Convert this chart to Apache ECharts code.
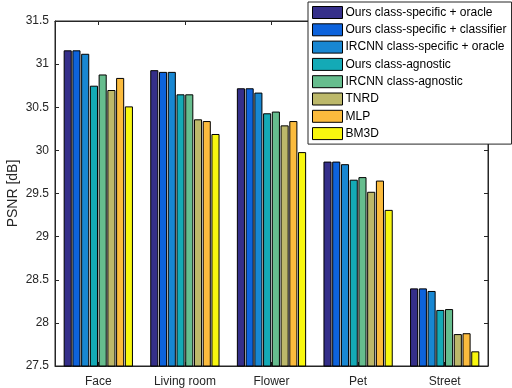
<!DOCTYPE html>
<html>
<head>
<meta charset="utf-8">
<script src="https://cdn.jsdelivr.net/npm/echarts@6/dist/echarts.min.js"></script>
<style>
  html, body { margin: 0; padding: 0; background: #fff; }
  #main { width: 512px; height: 388px; }
</style>
</head>
<body>
<div id="main"></div>
<script>
// categories along x
const categories = ['Face', 'Living room', 'Flower', 'Pet', 'Street'];

// one array per method, values per category (PSNR in dB)
const oursSpecOracle = [31.16, 30.93, 30.72, 29.87, 28.40];
const oursSpecClassifier = [31.16, 30.91, 30.72, 29.87, 28.40];
const ircnnSpecOracle = [31.12, 30.91, 30.67, 29.84, 28.37];
const oursAgnostic = [30.75, 30.65, 30.43, 29.66, 28.15];
const ircnnAgnostic = [30.88, 30.65, 30.45, 29.69, 28.16];
const tnrd = [30.70, 30.36, 30.29, 29.52, 27.87];
const mlp = [30.84, 30.34, 30.34, 29.65, 27.88];
const bm3d = [30.51, 30.19, 29.98, 29.31, 27.67];

const seriesNames = [
    'Ours class-specific + oracle',
    'Ours class-specific + classifier',
    'IRCNN class-specific + oracle',
    'Ours class-agnostic',
    'IRCNN class-agnostic',
    'TNRD',
    'MLP',
    'BM3D'
];
const seriesData = [oursSpecOracle, oursSpecClassifier, ircnnSpecOracle, oursAgnostic, ircnnAgnostic, tnrd, mlp, bm3d];
const colors = ['#352F8A', '#0D63DC', '#1887D2', '#14AAB6', '#66BD8E', '#BCB86A', '#FBBB3D', '#F8F70F'];

const yTicks = [27.5, 28, 28.5, 29, 29.5, 30, 30.5, 31, 31.5];

const font = 'Liberation Sans, Arial, sans-serif';
const myChart = echarts.init(document.getElementById('main'));

const series = seriesData.map((d, i) => {
    return {
        name: seriesNames[i],
        type: 'bar',
        data: d,
        barGap: '8%',
        barCategoryGap: '20%',
        itemStyle: {color: colors[i], borderColor: '#000', borderWidth: 1}
    };
});

const option = {
    animation: false,
    backgroundColor: '#fff',
    grid: {left: 55, right: 24, top: 21, bottom: 22, outerBoundsMode: 'none',
        show: true, borderColor: '#262626', borderWidth: 1, backgroundColor: 'transparent'},
    legend: {
        orient: 'vertical',
        left: 308,
        top: 2,
        width: 200,
        itemWidth: 30,
        itemHeight: 12,
        itemGap: 4.3,
        padding: [4, 5, 4, 4],
        backgroundColor: '#fff',
        borderColor: '#262626',
        borderWidth: 1,
        icon: 'rect',
        itemStyle: {borderColor: '#000', borderWidth: 1},
        textStyle: {fontFamily: font, fontSize: 12, color: '#000', padding: [0, 0, 0, -2]},
        data: seriesNames
    },
    xAxis: [{
        type: 'category',
        data: categories,
        axisLine: {show: true, lineStyle: {color: '#262626'}},
        axisTick: {show: true, inside: true, alignWithLabel: true, length: 4, lineStyle: {color: '#262626'}},
        axisLabel: {fontFamily: font, fontSize: 12, color: '#262626', margin: 10}
    }, {
        type: 'category',
        data: categories,
        position: 'top',
        axisLine: {show: true, lineStyle: {color: '#262626'}},
        axisTick: {show: true, inside: true, alignWithLabel: true, length: 4, lineStyle: {color: '#262626'}},
        axisLabel: {show: false}
    }],
    yAxis: [{
        type: 'value',
        min: yTicks[0],
        max: yTicks[yTicks.length - 1],
        interval: 0.5,
        name: 'PSNR [dB]',
        nameLocation: 'middle',
        nameGap: 35,
        nameMoveOverlap: false,
        nameTextStyle: {fontFamily: font, fontSize: 14, color: '#262626'},
        axisLine: {show: true, lineStyle: {color: '#262626'}},
        axisTick: {show: true, inside: true, length: 4, lineStyle: {color: '#262626'}},
        splitLine: {show: false},
        axisLabel: {fontFamily: font, fontSize: 12, color: '#262626', margin: 6,
            formatter: v => String(v)}
    }, {
        type: 'value',
        min: yTicks[0],
        max: yTicks[yTicks.length - 1],
        interval: 0.5,
        position: 'right',
        axisLine: {show: true, lineStyle: {color: '#262626'}},
        axisTick: {show: true, inside: true, length: 4, lineStyle: {color: '#262626'}},
        splitLine: {show: false},
        axisLabel: {show: false}
    }],
    series: series
};
myChart.setOption(option);
</script>
</body>
</html>
